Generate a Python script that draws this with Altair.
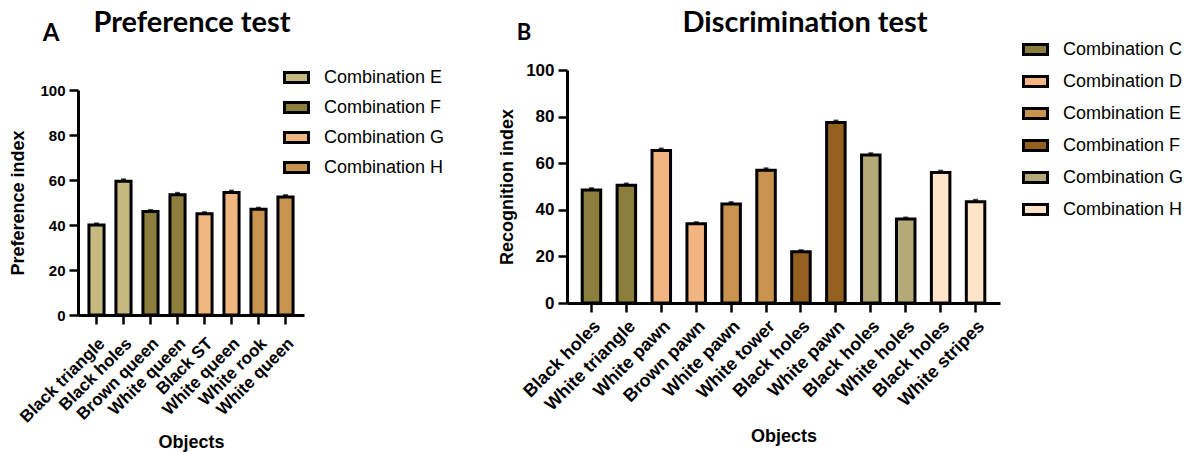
import json
import altair as alt
import pandas as pd

# ---------------- data ----------------
a_objects = ["Black triangle", "Black holes", "Brown queen", "White queen",
             "Black ST", "White queen", "White rook", "White queen"]
a_combos = ["Combination E", "Combination E", "Combination F", "Combination F",
            "Combination G", "Combination G", "Combination H", "Combination H"]
a_values = [40, 59.5, 46, 53.5, 45, 54.5, 47, 52.5]
a_sem = [0.7, 0.8, 0.7, 0.8, 0.7, 0.8, 0.7, 0.8]
a_legend = ["Combination E", "Combination F", "Combination G", "Combination H"]
a_colors = ["#c5b97f", "#8c7d3c", "#f0b781", "#c8924f"]

b_objects = ["Black holes", "White triangle", "White pawn", "Brown pawn",
             "White pawn", "White tower", "Black holes", "White pawn",
             "Black holes", "White holes", "Black holes", "White stripes"]
b_combos = ["Combination C", "Combination C", "Combination D", "Combination D",
            "Combination E", "Combination E", "Combination F", "Combination F",
            "Combination G", "Combination G", "Combination H", "Combination H"]
b_values = [48.5, 50.5, 65.5, 34, 42.5, 57, 22, 77.5, 63.5, 36, 56, 43.5]
b_sem = [0.8, 0.8, 0.8, 0.7, 0.8, 0.8, 0.7, 0.8, 0.8, 0.7, 0.8, 0.8]
b_legend = ["Combination C", "Combination D", "Combination E",
            "Combination F", "Combination G", "Combination H"]
b_colors = ["#8b7d3b", "#f2b581", "#c9924f", "#93601f", "#b4aa78", "#fde3c8"]

y_ticks = [0, 20, 40, 60, 80, 100]

AXFONT = "Liberation Sans"
TFONT = "Lato"
SWATCH = "M-1,-0.42L1,-0.42L1,0.42L-1,0.42Z"


def panel(objects, combos, values, sem, legend_names, colors,
          w, h, yrange, pi, po, ytitle, title, letter,
          title_pos, letter_pos, letter_size, legend_pos, row_pad,
          ylab_size, xlab_size, xlab_pad, ytitle_pad, xtitle_pad):
    df = pd.DataFrame({
        "idx": list(range(len(objects))),
        "obj": objects,
        "combo": combos,
        "value": values,
        "hi": [v + s for v, s in zip(values, sem)],
    })
    base = alt.Chart(df)
    xaxis = alt.Axis(
        title="Objects", labelExpr=json.dumps(objects) + "[datum.value]",
        labelAngle=-45, labelFontSize=xlab_size, labelPadding=xlab_pad,
        titleFontSize=18, titlePadding=xtitle_pad, tickSize=9,
    )
    yaxis = alt.Axis(
        title=ytitle, values=y_ticks, grid=False, labelFontSize=ylab_size,
        labelPadding=4, titleFontSize=18, titlePadding=ytitle_pad, tickSize=9,
    )
    x = alt.X("idx:O", scale=alt.Scale(paddingInner=pi, paddingOuter=po), axis=xaxis)
    yscale = alt.Scale(domain=[0, 100], nice=False, range=yrange)

    bars = base.mark_bar(stroke="black", strokeWidth=3).encode(
        x=x,
        y=alt.Y("value:Q", scale=yscale, axis=yaxis),
        color=alt.Color(
            "combo:N",
            scale=alt.Scale(domain=legend_names, range=colors),
            legend=alt.Legend(
                title=None, orient="none", legendX=legend_pos[0], legendY=legend_pos[1],
                symbolType=SWATCH, symbolSize=576, symbolStrokeWidth=3,
                symbolStrokeColor="black", symbolOpacity=1,
                labelFont=AXFONT, labelFontSize=18, labelColor="black",
                labelOffset=14, rowPadding=row_pad, padding=0,
            ),
        ),
    )
    err = base.mark_rule(color="black", strokeWidth=2.5).encode(
        x=x, y=alt.Y("value:Q", scale=yscale, axis=yaxis), y2="hi:Q"
    )
    cap = base.mark_tick(color="black", thickness=2, size=5).encode(
        x=x, y=alt.Y("hi:Q", scale=yscale, axis=yaxis)
    )
    ttl = alt.Chart(pd.DataFrame({"t": [title]})).mark_text(
        font=TFONT, fontWeight="bold", fontSize=29, align="center",
        baseline="alphabetic", color="black",
    ).encode(text="t:N", x=alt.value(title_pos[0]), y=alt.value(title_pos[1]))
    let = alt.Chart(pd.DataFrame({"t": [letter]})).mark_text(
        font=TFONT, fontWeight="bold", fontSize=letter_size, align="center",
        baseline="alphabetic", color="black",
    ).encode(text="t:N", x=alt.value(letter_pos[0]), y=alt.value(letter_pos[1]))
    return alt.layer(bars, err, cap, ttl, let).properties(width=w, height=h)


left = panel(a_objects, a_combos, a_values, a_sem, a_legend, a_colors,
             226, 245, [245, 20], 0.44, 0.405, "Preference index", "Preference test", "A",
             (114, -38), (-27, -29), 24, (205, -6), 5,
             15, 17, 11, 12, 8)
right = panel(b_objects, b_combos, b_values, b_sem, b_legend, b_colors,
              433, 233, [233, 0], 0.47, 0.435, "Recognition index", "Discrimination test", "B",
              (238, -38), (-43, -30), 22, (455, -34), 7,
              17, 18, 5, 9, 14)

chart = alt.hconcat(left, right, spacing=53).resolve_scale(
    color="independent"
).properties(
    padding={"left": 9, "top": 9, "right": 5, "bottom": 5}
).configure_view(stroke=None).configure_axis(
    domainColor="black", domainWidth=3, tickColor="black", tickWidth=2.5,
    labelColor="black", labelFont=AXFONT, labelFontWeight="bold",
    titleColor="black", titleFont=AXFONT, titleFontWeight="bold",
)

chart.save("out.html", embed_options={"renderer": "svg", "actions": False})
